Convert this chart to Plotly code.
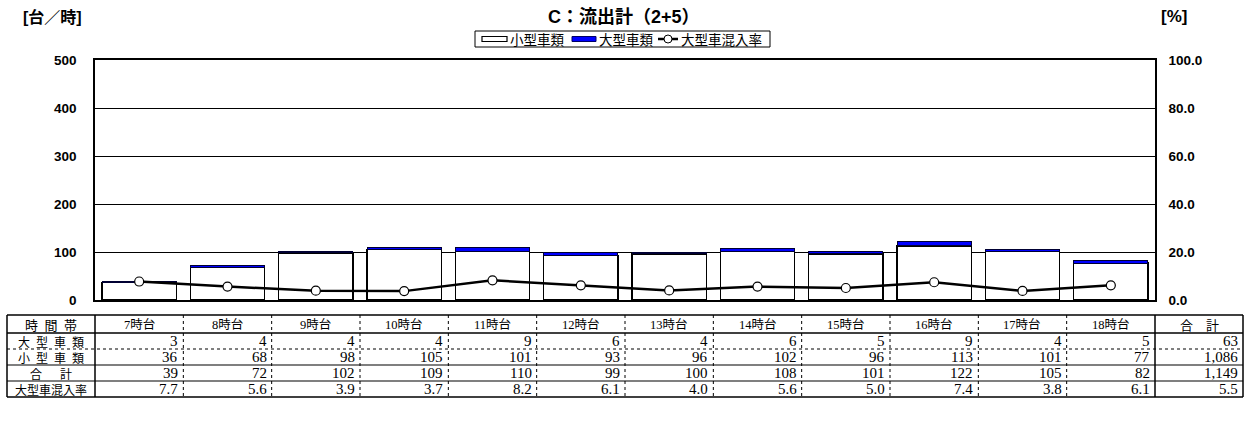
import plotly.graph_objects as go

# Hourly outflow data
hours = ["7時台", "8時台", "9時台", "10時台", "11時台", "12時台",
         "13時台", "14時台", "15時台", "16時台", "17時台", "18時台"]
large = [3, 4, 4, 4, 9, 6, 4, 6, 5, 9, 4, 5]
small = [36, 68, 98, 105, 101, 93, 96, 102, 96, 113, 101, 77]
large_rate = [7.7, 5.6, 3.9, 3.7, 8.2, 6.1, 4.0, 5.6, 5.0, 7.4, 3.8, 6.1]
series_names = ["小型車類", "大型車類", "大型車混入率"]

total = [a + b for a, b in zip(small, large)]
sum_large = sum(large)
sum_small = sum(small)
sum_total = sum(total)
sum_rate = sum_large / sum_total * 100

W, H = 1254, 428
L, R, T, B = 95, 1155, 60, 300  # plot area in pixels

SANS = "Liberation Sans, Arial, Noto Sans CJK JP"
CJK = "Noto Sans CJK JP"
SERIF = "Liberation Serif, Noto Sans CJK JP"

BLUE = "#0000FF"
xs = list(range(len(hours)))

fig = go.Figure()
fig.add_trace(go.Bar(
    x=xs, y=small, name=series_names[0], showlegend=False,
    marker=dict(color="white", line=dict(color="black", width=1.5)),
))
fig.add_trace(go.Bar(
    x=xs, y=large, name=series_names[1], showlegend=False,
    marker=dict(color=BLUE, line=dict(color="#000033", width=1)),
))
fig.add_trace(go.Scatter(
    x=xs, y=large_rate, name=series_names[2], yaxis="y2", showlegend=False,
    mode="lines+markers",
    line=dict(color="black", width=2.5),
    marker=dict(symbol="circle", size=9, color="white",
                line=dict(color="black", width=1.2)),
))


def px(x):
    return (x - L) / (R - L)


def py(y):
    return (B - y) / (B - T)


shapes = []
annotations = []


def hline(x0, x1, y, dash="solid", width=1):
    shapes.append(dict(type="line", xref="paper", yref="paper",
                       x0=px(x0), x1=px(x1), y0=py(y), y1=py(y),
                       line=dict(color="black", width=width, dash=dash)))


def vline(x, y0, y1, dash="solid", width=1):
    shapes.append(dict(type="line", xref="paper", yref="paper",
                       x0=px(x), x1=px(x), y0=py(y0), y1=py(y1),
                       line=dict(color="black", width=width, dash=dash)))


def rect(x0, y0, x1, y1, fill, line_color="black", width=1):
    shapes.append(dict(type="rect", xref="paper", yref="paper",
                       x0=px(x0), x1=px(x1), y0=py(y0), y1=py(y1),
                       fillcolor=fill, line=dict(color=line_color, width=width)))


def text(t, x, y, size, align="center", font=SERIF):
    annotations.append(dict(
        text=t, xref="paper", yref="paper", x=px(x), y=py(y),
        xanchor=align, yanchor="middle", showarrow=False,
        font=dict(family=font, size=size, color="black")))


# ---- legend (boxed, above the plot) ----
rect(475, 31, 770, 47, "white", width=1)
rect(482, 36.5, 507, 41.5, "white", width=1.2)
text(series_names[0], 508, 39.5, 13.5, align="left", font=CJK)
rect(572, 36.5, 596, 41.5, BLUE, line_color="#000066", width=1)
text(series_names[1], 597, 39.5, 13.5, align="left", font=CJK)
hline(658, 678, 39, width=2.5)
shapes.append(dict(type="circle", xref="paper", yref="paper",
                   x0=px(664), x1=px(672), y0=py(35), y1=py(43),
                   fillcolor="white", line=dict(color="black", width=1)))
text(series_names[2], 679, 39.5, 13.5, align="left", font=CJK)

# ---- data table below the plot ----
col_x = [7, 95] + [95 + (R - L) / 12 * (i + 1) for i in range(12)] + [1243]
row_y = [315, 333, 349, 365, 381, 397]

hline(col_x[0], col_x[-1], row_y[0], width=1.5)
hline(col_x[0], col_x[-1], row_y[1], width=1.5)
hline(col_x[0], col_x[-1], row_y[2], dash="dot")
hline(col_x[0], col_x[-1], row_y[3], width=1.2)
hline(col_x[0], col_x[-1], row_y[4], width=1.2)
hline(col_x[0], col_x[-1], row_y[5], width=1.5)

vline(col_x[0], row_y[0], row_y[-1], width=1.5)
vline(col_x[1], row_y[0], row_y[-1], width=1.5)
for i in range(2, 13):
    vline(col_x[i], row_y[0], row_y[-1], dash="dot")
vline(col_x[13], row_y[0], row_y[-1], width=1.5)
vline(col_x[14], row_y[0], row_y[-1], width=1.5)

EN = "\u2002"
row_labels = [EN.join("時間帯"), EN.join("大型車類"), EN.join("小型車類"),
              "合" + EN * 3 + "計", "大型車混入率"]
label_sizes = [13, 12, 12, 12, 12]
for r, (lab, sz) in enumerate(zip(row_labels, label_sizes)):
    yc = (row_y[r] + row_y[r + 1]) / 2
    text(lab, (col_x[0] + col_x[1]) / 2, yc, sz, font=CJK)

rows_data = [
    [str(v) for v in large] + [f"{sum_large:,}"],
    [str(v) for v in small] + [f"{sum_small:,}"],
    [str(v) for v in total] + [f"{sum_total:,}"],
    [f"{v:.1f}" for v in large_rate] + [f"{sum_rate:.1f}"],
]

for c, h in enumerate(hours):
    text(h, (col_x[c + 1] + col_x[c + 2]) / 2, (row_y[0] + row_y[1]) / 2, 12.5)
text("合" + EN * 2 + "計", (col_x[13] + col_x[14]) / 2,
     (row_y[0] + row_y[1]) / 2, 13, font=CJK)

for r, vals in enumerate(rows_data):
    yc = (row_y[r + 1] + row_y[r + 2]) / 2
    for c, v in enumerate(vals):
        text(v, col_x[c + 2] - 3, yc, 15, align="right")

# ---- titles and unit labels ----
text("<b>C：流出計（2+5）</b>", 624, 17, 18, font=SANS)
text("<b>[台／時]</b>", 21, 17, 16, align="left", font=SANS)
text("<b>[%]</b>", 1159, 17, 17, align="left", font=SANS)

fig.update_layout(
    width=W, height=H, autosize=False,
    margin=dict(l=L, r=W - R, t=T, b=H - B, pad=0),
    paper_bgcolor="white", plot_bgcolor="white",
    barmode="stack", bargap=0.16,
    showlegend=False,
    xaxis=dict(range=[-0.5, 11.5], showticklabels=False, showgrid=False,
               zeroline=False, showline=True, linecolor="black", linewidth=1.5,
               mirror=True, ticks=""),
    yaxis=dict(range=[0, 500], dtick=100, showgrid=True, gridcolor="black",
               gridwidth=1, zeroline=False, showline=True, linecolor="black",
               linewidth=1.5, ticks="", ticklabelstandoff=14,
               tickfont=dict(family=SANS, size=13.5, color="black", weight="bold")),
    yaxis2=dict(range=[0, 100], dtick=20, tickformat=".1f", overlaying="y",
                side="right", showgrid=False, zeroline=False, showline=True,
                linecolor="black", linewidth=1.5, ticks="", ticklabelstandoff=9,
                tickfont=dict(family=SANS, size=13.5, color="black", weight="bold")),
    shapes=shapes,
    annotations=annotations,
)

fig.write_html("out.html")
